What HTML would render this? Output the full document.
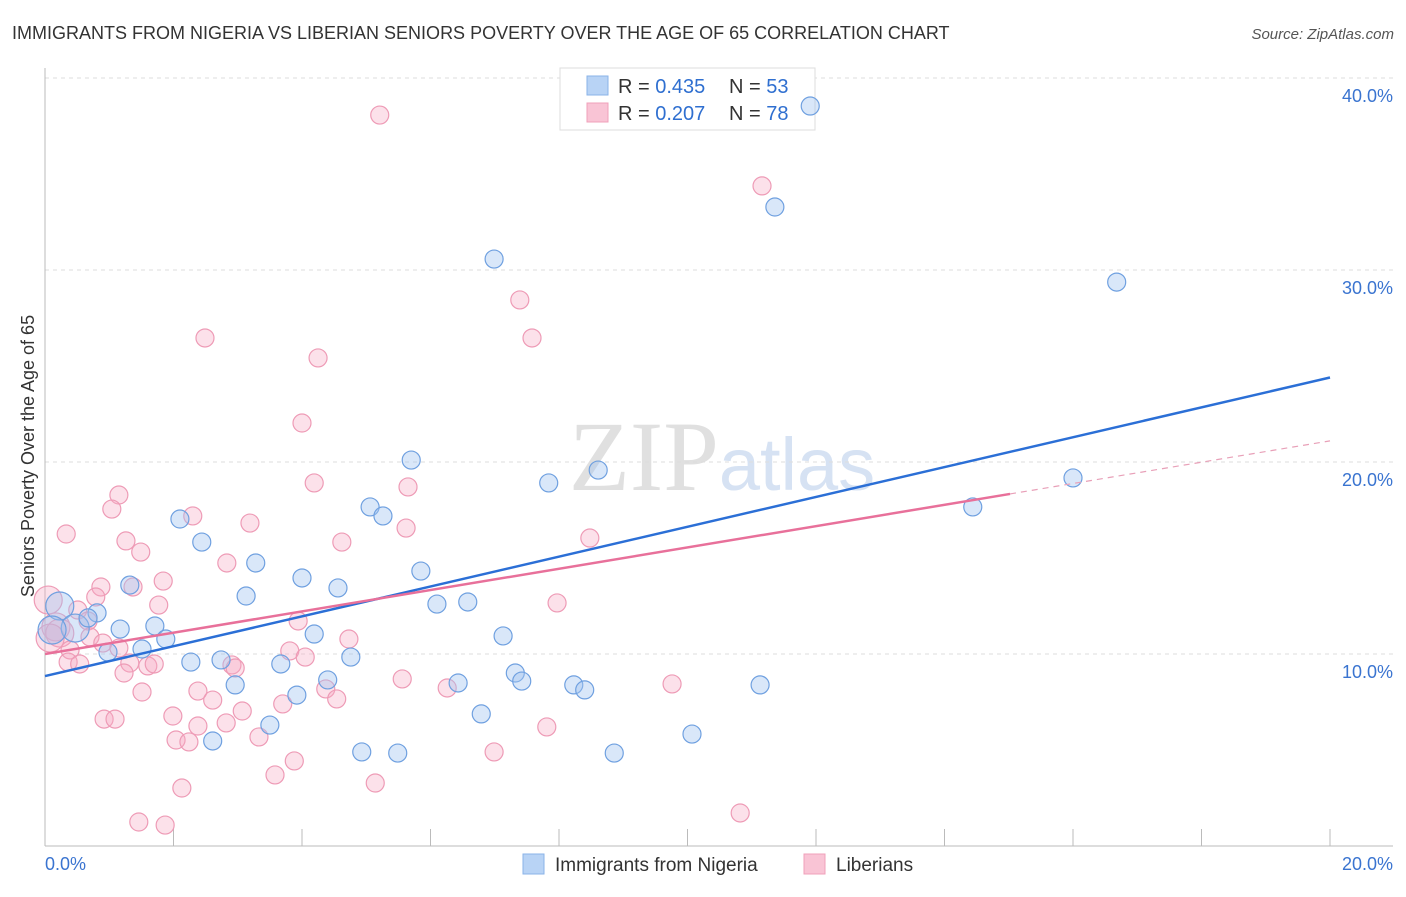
<!DOCTYPE html>
<html><head><meta charset="utf-8"><style>
body{margin:0;background:#fff;font-family:"Liberation Sans",sans-serif;}
</style></head><body>
<svg id="chart" width="1406" height="892" xmlns="http://www.w3.org/2000/svg">
<text x="12" y="39" font-size="18" fill="#333">IMMIGRANTS FROM NIGERIA VS LIBERIAN SENIORS POVERTY OVER THE AGE OF 65 CORRELATION CHART</text>
<text x="1394" y="39" font-size="15" fill="#555" font-style="italic" text-anchor="end">Source: ZipAtlas.com</text>
<text x="722" y="490" font-size="100" fill="#e0e0e0" text-anchor="middle" font-family="Liberation Serif,serif">ZIP<tspan fill="#d6e2f3" font-family="Liberation Sans,sans-serif" font-size="74">atlas</tspan></text>
<g id="grid"></g>
<g>
<rect x="560" y="68" width="255" height="62" fill="#fff" stroke="#ddd"/>
<rect x="587" y="76" width="21" height="19" fill="#b8d3f5" stroke="#8ab3e8"/>
<rect x="587" y="103" width="21" height="19" fill="#f9c4d5" stroke="#f0a0ba"/>
<text x="618" y="93" font-size="20" fill="#333">R = <tspan fill="#2f6fd0">0.435</tspan><tspan x="729">N = </tspan><tspan fill="#2f6fd0">53</tspan></text>
<text x="618" y="120" font-size="20" fill="#333">R = <tspan fill="#2f6fd0">0.207</tspan><tspan x="729">N = </tspan><tspan fill="#2f6fd0">78</tspan></text>
</g>
<g id="pts"></g>
<g id="lines"></g>
<text transform="translate(34,456) rotate(-90)" font-size="18" fill="#333" text-anchor="middle">Seniors Poverty Over the Age of 65</text>
<g>
<rect x="523" y="854" width="21" height="20" fill="#b8d3f5" stroke="#8ab3e8"/>
<text x="555" y="871" font-size="19" fill="#333">Immigrants from Nigeria</text>
<rect x="804" y="854" width="21" height="20" fill="#f9c4d5" stroke="#f0a0ba"/>
<text x="836" y="871" font-size="19" fill="#333">Liberians</text>
</g>
</svg>
<script>
const xTicks=[0,2,4,6,8,10,12,14,16,18,20];
const yTicks=[10,20,30,40];
const xLabels=["0.0%","20.0%"];
const blueX=[11.91,11.36,6.99,16.68,5.70,8.61,7.84,16.0,14.44,2.10,5.06,5.26,2.44,3.28,5.85,4.0,1.32,4.56,3.13,6.10,6.58,0.81,0.23,1.71,1.17,0.47,0.11,0.67,1.88,4.19,7.13,0.98,1.51,4.76,2.27,2.74,3.67,7.32,7.42,4.40,6.43,2.96,8.23,8.40,11.13,3.92,6.79,3.50,10.07,2.61,4.93,5.49,8.86];
const blueY=[38.54,33.28,30.57,29.37,20.10,19.58,18.91,19.17,17.66,17.03,17.66,17.19,15.83,14.74,14.32,13.96,13.59,13.44,13.02,12.60,12.71,12.14,12.5,11.46,11.30,11.35,11.25,11.88,10.78,11.04,10.94,10.10,10.26,9.84,9.58,9.69,9.48,9.01,8.59,8.65,8.49,8.39,8.39,8.13,8.39,7.86,6.88,6.30,5.83,5.47,4.90,4.84,4.84];
const pinkX=[5.21,11.16,7.39,7.58,2.49,4.25,4.0,4.19,5.65,1.15,1.04,2.30,3.19,5.62,0.33,1.26,8.48,1.49,4.62,2.83,1.84,0.87,1.37,0.79,1.77,7.97,0.51,0.05,3.94,0.17,0.67,0.23,0.70,0.08,4.73,0.39,0.90,1.15,3.81,4.05,0.36,0.54,1.32,1.60,1.70,2.91,2.96,1.23,5.56,4.37,6.26,9.76,1.51,2.38,2.61,4.54,3.70,3.07,1.99,0.92,1.09,2.82,2.38,7.81,2.04,2.24,3.33,6.99,3.88,3.58,5.14,2.13,10.82,1.46,1.87];
const pinkY=[38.07,34.38,28.44,26.46,26.46,25.42,22.03,18.91,18.70,18.28,17.55,17.19,16.82,16.56,16.25,15.89,16.04,15.31,15.83,14.74,13.80,13.49,13.49,12.97,12.55,12.66,12.29,12.81,11.72,11.41,11.72,11.09,10.89,10.83,10.78,10.21,10.57,10.31,10.16,9.84,9.58,9.48,9.53,9.38,9.48,9.43,9.27,9.01,8.70,8.18,8.23,8.44,8.02,8.07,7.60,7.66,7.40,7.03,6.77,6.61,6.61,6.41,6.25,6.20,5.52,5.42,5.68,4.90,4.43,3.70,3.28,3.02,1.72,1.25,1.09];
const blueTrend=[8.85,24.4];
const pinkTrend=[10.0,21.1];
const pinkSolidEnd=15.02;
const X=v=>45+v*64.25, Y=v=>846-v*19.2;
const NS="http://www.w3.org/2000/svg";
function mk(t,a,p){const e=document.createElementNS(NS,t);for(const k in a)e.setAttribute(k,a[k]);p.appendChild(e);return e;}
const grid=document.getElementById('grid');
yTicks.forEach(t=>{
  const l=mk('line',{x1:45,x2:1393,y1:Y(t),y2:Y(t),stroke:'#ddd','stroke-dasharray':'4,4'},grid);
  
  
  const tx=mk('text',{x:1393,y:Y(t)+24,'font-size':18,fill:'#3a74d0','text-anchor':'end'},grid);
  tx.textContent=t.toFixed(1)+'%';
  
  
});
const ax=mk('line',{x1:45,x2:45,y1:68,y2:846,stroke:'#bbb'},grid);


const bx=mk('line',{x1:45,x2:1393,y1:846,y2:846,stroke:'#bbb'},grid);


xTicks.forEach(t=>{
  const l=mk('line',{x1:X(t),x2:X(t),y1:829,y2:846,stroke:'#bbb'},grid);
  
  
});
[[0,'start',45],[20,'end',1393]].forEach((d,i)=>{
  const tx=mk('text',{x:d[2],y:870,'font-size':18,fill:'#3a74d0','text-anchor':d[1]},grid);
  tx.textContent=xLabels[i];
  
  
});
const pts=document.getElementById('pts');
function big(x,y){return x<0.5&&y>10.5&&y<13;}
pinkX.forEach((x,i)=>{
  const c=mk('circle',{cx:X(x),cy:Y(pinkY[i]),r:big(x,pinkY[i])?14:9,fill:'rgba(246,170,195,0.35)',stroke:'#ee9bb6','stroke-width':1.2},pts);
  
  
});
blueX.forEach((x,i)=>{
  const c=mk('circle',{cx:X(x),cy:Y(blueY[i]),r:big(x,blueY[i])?14:9,fill:'rgba(160,196,240,0.4)',stroke:'#6fa0e0','stroke-width':1.2},pts);
  
  
});
const lines=document.getElementById('lines');
const bl=mk('line',{x1:X(0),y1:Y(blueTrend[0]),x2:X(20),y2:Y(blueTrend[1]),stroke:'#2b6fd6','stroke-width':2.5},lines);


const pm=pinkTrend[0]+(pinkTrend[1]-pinkTrend[0])*pinkSolidEnd/20;
const pl=mk('line',{x1:X(0),y1:Y(pinkTrend[0]),x2:X(pinkSolidEnd),y2:Y(pm),stroke:'#e8709a','stroke-width':2.5},lines);


const pd=mk('line',{x1:X(pinkSolidEnd),y1:Y(pm),x2:X(20),y2:Y(pinkTrend[1]),stroke:'#e8a0b8','stroke-width':1.2,'stroke-dasharray':'6,5'},lines);


</script>
</body></html>
